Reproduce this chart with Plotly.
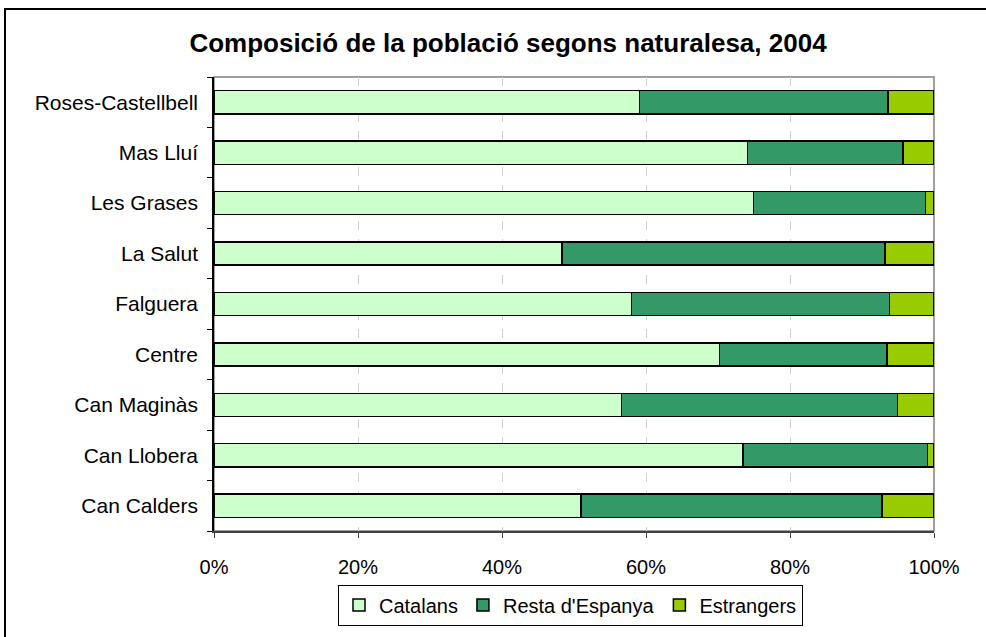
import plotly.graph_objects as go

categories = ["Can Calders", "Can Llobera", "Can Maginàs", "Centre", "Falguera",
              "La Salut", "Les Grases", "Mas Lluí", "Roses-Castellbell"]
catalans = [51.0, 73.5, 56.6, 70.2, 58.0, 48.3, 74.9, 74.1, 59.1]
resta_espanya = [41.8, 25.6, 38.3, 23.3, 35.8, 44.9, 23.9, 21.6, 34.5]
estrangers = [7.2, 0.9, 5.1, 6.5, 6.2, 6.8, 1.2, 4.3, 6.4]
x_ticks = [0, 20, 40, 60, 80, 100]
x_tick_labels = ["0%", "20%", "40%", "60%", "80%", "100%"]

series = [
    ("Catalans", catalans, "#CCFFCC"),
    ("Resta d'Espanya", resta_espanya, "#339966"),
    ("Estrangers", estrangers, "#99CC00"),
]

FONT = "Liberation Sans, Arial, sans-serif"

fig = go.Figure()
for name, vals, col in series:
    fig.add_trace(go.Bar(
        y=categories, x=vals, name=name, orientation="h",
        marker=dict(color=col, line=dict(color="#000000", width=1.5)),
    ))

W, H = 986, 637
L, R, T, B = 214, 52, 77, 106
pw, ph = W - L - R, H - T - B

def px(xp):
    return (xp - L) / pw

def py(yp):
    return (H - B - yp) / ph

fig.update_layout(
    width=W, height=H,
    margin=dict(l=L, r=R, t=T, b=B),
    barmode="stack",
    bargap=0.54,
    paper_bgcolor="white",
    plot_bgcolor="white",
    font=dict(family=FONT, size=20, color="#000000"),
    title=dict(
        text="<b>Composició de la població segons naturalesa, 2004</b>",
        x=508 / W, xanchor="center", y=1 - 43 / H, yanchor="middle",
        font=dict(family=FONT, size=26, color="#000000"),
    ),
    legend=dict(
        orientation="h", x=px(338), xanchor="left", y=py(605), yanchor="middle",
        bordercolor="#000000", borderwidth=1, bgcolor="white",
        font=dict(family=FONT, size=20), traceorder="normal",
        itemwidth=30,
    ),
    xaxis=dict(
        range=[0, 100], tickvals=x_ticks, ticktext=x_tick_labels,
        showgrid=True, gridcolor="#D0D0D0", griddash="dash", gridwidth=1,
        showline=True, linecolor="#404040", linewidth=1.5,
        ticks="outside", ticklen=5, tickcolor="#404040",
        zeroline=False, fixedrange=True,
        tickfont=dict(family=FONT, size=20),
        ticklabelstandoff=12,
    ),
    yaxis=dict(
        type="category", categoryorder="array", categoryarray=categories,
        showline=True, linecolor="#000000", linewidth=1.5,
        ticks="outside", ticklen=5, tickson="boundaries", tickcolor="#000000",
        showgrid=False, zeroline=False,
        tickfont=dict(family=FONT, size=21),
        ticklabelstandoff=10,
    ),
    shapes=[
        dict(type="rect", xref="paper", yref="paper", x0=0, x1=1, y0=0, y1=1,
             line=dict(color="#808080", width=1.5), layer="below"),
        dict(type="rect", xref="paper", yref="paper",
             x0=px(5), x1=px(1010), y0=py(660), y1=py(9),
             line=dict(color="#000000", width=2)),
    ],
)

fig.write_html("out.html", config={"displayModeBar": False},
               post_script="document.body.style.margin='0px';")
